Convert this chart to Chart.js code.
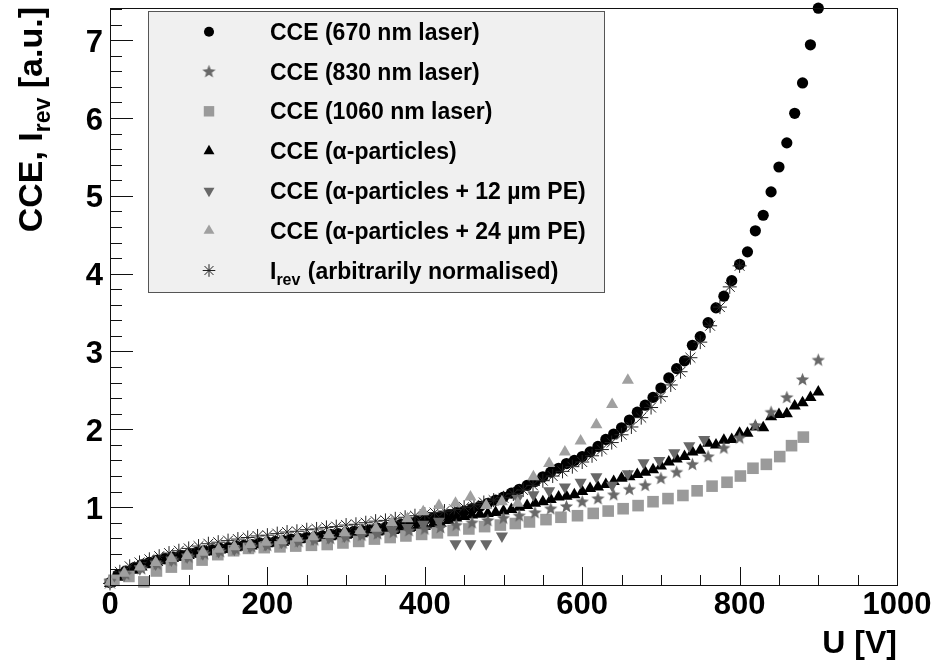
<!DOCTYPE html>
<html>
<head>
<meta charset="utf-8">
<script src="https://cdn.jsdelivr.net/npm/chart.js@4.4.1/dist/chart.umd.min.js"></script>
<style>
  html, body { margin: 0; padding: 0; background: #fff; }
  #wrap { width: 937px; height: 666px; position: relative; }
</style>
</head>
<body>
<div id="wrap"><canvas id="chart"></canvas></div>
<script>
// ---- data (U in volts, CCE / I_rev in arbitrary units) ----
const u670 = [0,10,20,30,40,50,60,70,80,90,100,110,120,130,140,150,160,170,180,190,
  200,210,220,230,240,250,260,270,280,290,300,310,320,330,340,350,360,370,380,390,
  400,410,420,430,440,450,460,470,480,490,500,510,520,530,540,550,560,570,580,590,
  600,610,620,630,640,650,660,670,680,690,700,710,720,730,740,750,760,770,780,790,
  800,810,820,830,840,850,860,870,880,890,900];
const cce670 = [0.03,0.13,0.18,0.22,0.26,0.29,0.32,0.34,0.36,0.38, 0.40,0.42,0.44,0.45,0.47,0.48,0.50,0.51,0.52,0.54,
  0.55,0.56,0.57,0.59,0.60,0.61,0.62,0.63,0.65,0.66, 0.67,0.69,0.70,0.71,0.73,0.74,0.76,0.78,0.80,0.82,
  0.84,0.86,0.88,0.90,0.93,0.95,0.98,1.01,1.05,1.09, 1.13,1.18,1.23,1.28,1.33,1.39,1.45,1.50,1.56,1.60,
  1.65,1.71,1.78,1.87,1.94,2.02,2.12,2.22,2.31,2.41, 2.53,2.66,2.78,2.88,3.08,3.19,3.37,3.56,3.71,3.91,
  4.12,4.28,4.55,4.75,5.05,5.37,5.68,6.06,6.45,6.94, 7.41];

const u830 = [0,20,40,60,80,100,120,140,160,180,200,220,240,260,280,300,320,340,360,380,
  400,420,440,460,480,500,520,540,560,580,600,620,640,660,680,700,720,740,760,780,
  800,820,840,860,880,900];
const cce830 = [0.05,0.14,0.21,0.27,0.32,0.36,0.40,0.43,0.46,0.49, 0.51,0.54,0.56,0.58,0.60,0.62,0.64,0.66,0.68,0.70,
  0.72,0.74,0.77,0.80,0.83,0.86,0.89,0.93,0.98,1.01, 1.07,1.11,1.16,1.23,1.28,1.37,1.45,1.55,1.65,1.76,
  1.89,2.05,2.22,2.41,2.64,2.89];

const u1060 = [5,24,43,59,78,98,117,137,157,176,196,216,236,256,276,296,316,336,356,376,
  396,416,436,456,476,496,515,533,554,573,594,614,633,652,671,690,709,728,746,765,
  784,801,817,834,851,866,881];
const cce1060 = [0.06,0.11,0.04,0.18,0.23,0.27,0.32,0.39,0.44,0.47, 0.48,0.49,0.50,0.51,0.52,0.54,0.56,0.59,0.61,0.63,
  0.65,0.67,0.70,0.72,0.75,0.77,0.79,0.81,0.84,0.87, 0.89,0.92,0.95,0.98,1.02,1.07,1.11,1.15,1.21,1.27,
  1.32,1.40,1.50,1.55,1.65,1.79,1.90];

const uAlpha = u670;
const cceAlpha = [0.02,0.10,0.15,0.19,0.23,0.26,0.29,0.31,0.34,0.36, 0.38,0.40,0.42,0.43,0.45,0.46,0.48,0.49,0.50,0.52,
  0.53,0.54,0.55,0.57,0.58,0.59,0.60,0.61,0.62,0.63, 0.64,0.65,0.66,0.67,0.68,0.69,0.70,0.71,0.73,0.74,
  0.75,0.77,0.79,0.83,0.86,0.88,0.90,0.91,0.92,0.93, 0.95,0.97,1.00,1.02,1.05,1.07,1.10,1.13,1.14,1.16,
  1.20,1.24,1.26,1.29,1.33,1.37,1.39,1.42,1.45,1.48, 1.53,1.58,1.62,1.65,1.71,1.73,1.82,1.80,1.86,1.87,
  1.95,1.95,2.03,2.02,2.16,2.19,2.20,2.30,2.34,2.41, 2.48];

const uPe12 = [0,18,38,58,78,98,118,138,158,178,198,218,238,258,278,298,318,338,358,378,
  398,418,439,458,478,498,518,538,558,578,598,618,638,658,678,698,717,736,755];
const ccePe12 = [0.03,0.13,0.21,0.27,0.32,0.36,0.40,0.43,0.46,0.49, 0.52,0.55,0.57,0.59,0.61,0.63,0.66,0.68,0.71,0.74,
  0.78,0.82,0.53,0.53,0.53,0.63,1.11,1.16,1.21,1.26, 1.32,1.39,1.28,1.43,1.57,1.60,1.70,1.79,1.87];

const uPe24 = [0,18,38,58,78,98,118,138,158,178,198,218,238,258,278,298,318,338,358,378,
  398,418,439,458,478,498,518,538,558,578,598,618,638,658];
const ccePe24 = [0.04,0.15,0.23,0.29,0.34,0.38,0.42,0.46,0.49,0.52, 0.55,0.57,0.60,0.62,0.65,0.67,0.70,0.73,0.80,0.85,
  0.94,1.02,1.05,1.13,1.02,1.07,1.05,1.39,1.56,1.71, 1.85,2.06,2.32,2.63];

const uIrev = [0,12.5,25,37.5,50,62.5,75,87.5,100,112.5,125,137.5,150,162.5,175,187.5,200,
  212.5,225,237.5,250,262.5,275,287.5,300,312.5,325,337.5,350,362.5,375,387.5,400,
  412.5,425,437.5,450,462.5,475,487.5,500,512.5,525,537.5,550,562.5,575,587.5,600,
  612.5,625,637.5,650,662.5,675,687.5,700,712.5,725,737.5,750,762.5,775,787.5,800];
const irev = [0.02,0.17,0.24,0.29,0.33,0.37,0.41,0.44,0.47, 0.50,0.53,0.55,0.57,0.59,0.61,0.63,0.64,
  0.66,0.68,0.69,0.71,0.72,0.74,0.75,0.77, 0.78,0.80,0.82,0.83,0.85,0.87,0.89,0.91,
  0.93,0.95,0.97,1.00,1.03,1.06,1.09,1.12, 1.17,1.22,1.28,1.34,1.40,1.46,1.52,1.58,
  1.66,1.74,1.83,1.93,2.03,2.15,2.28,2.42, 2.57,2.74,2.92,3.12,3.33,3.57,3.83,4.10];

const xTicks = [0, 200, 400, 600, 800, 1000];
const yTicks = [1, 2, 3, 4, 5, 6, 7];

const FONT = '"Liberation Sans", Arial, Helvetica, sans-serif';

// filled five-point star (ROOT marker 29 look-alike)
function makeStar(color) {
  const c = document.createElement('canvas');
  c.width = 15; c.height = 15;
  const g = c.getContext('2d');
  g.fillStyle = color;
  g.beginPath();
  for (let i = 0; i < 10; i++) {
    const r = i % 2 === 0 ? 7 : 3;
    const a = -Math.PI / 2 + i * Math.PI / 5;
    g.lineTo(7.5 + r * Math.cos(a), 7.8 + r * Math.sin(a));
  }
  g.closePath();
  g.fill();
  return c;
}

const pts = (xs, ys) => xs.map((x, i) => ({ x: x, y: ys[i] }));

const series = [
  { label: ['CCE (670 nm laser)'], data: pts(u670, cce670), color: '#000000', style: 'circle', radius: 5.6, order: 6 },
  { label: ['CCE (830 nm laser)'], data: pts(u830, cce830), color: '#686868', style: makeStar('#686868'), radius: 7, order: 2 },
  { label: ['CCE (1060 nm laser)'], data: pts(u1060, cce1060), color: '#9a9a9a', style: 'rect', radius: 8.2, order: 3 },
  { label: ['CCE (\u03b1-particles)'], data: pts(uAlpha, cceAlpha), color: '#000000', style: 'triangle', radius: 7, order: 4 },
  { label: ['CCE (\u03b1-particles + 12 \u00b5m PE)'], data: pts(uPe12, ccePe12), color: '#686868', style: 'triangle', rotation: 180, radius: 7, order: 1 },
  { label: ['CCE (\u03b1-particles + 24 \u00b5m PE)'], data: pts(uPe24, ccePe24), color: '#a0a0a0', style: 'triangle', radius: 7, order: 0 },
  { label: ['I', 'rev', ' (arbitrarily normalised)'], data: pts(uIrev, irev), color: '#000000', style: 'star', radius: 7, order: 5, line: true }
];

const datasets = series.map(s => ({
  label: s.label.join(''),
  data: s.data,
  order: s.order,
  clip: false,
  showLine: false,
  pointStyle: s.style,
  pointRadius: s.radius,
  pointRotation: s.rotation || 0,
  pointBackgroundColor: s.color,
  pointBorderColor: s.line ? '#222' : s.color,
  pointBorderWidth: s.line ? 1 : 0,
  pointHoverRadius: s.radius
}));

// inward ticks, frame, legend box and axis titles in the ROOT style
const rootDecor = {
  id: 'rootDecor',
  afterDatasetsDraw(chart) {
    const { ctx, chartArea: a, scales: { x, y } } = chart;
    ctx.save();
    ctx.strokeStyle = '#111';
    ctx.lineWidth = 1;
    ctx.beginPath();
    for (let k = 0; k <= 20; k++) {
      const v = k * 50;
      const px = Math.round(x.getPixelForValue(v)) + 0.5;
      const len = k % 4 === 0 ? 18 : 10;
      ctx.moveTo(px, a.bottom);
      ctx.lineTo(px, a.bottom - len);
    }
    for (let k = 0; k / 5 <= y.max; k++) {
      const py = Math.round(y.getPixelForValue(k / 5)) + 0.5;
      const len = k % 5 === 0 ? 23 : 12;
      ctx.moveTo(a.left, py);
      ctx.lineTo(a.left + len, py);
    }
    ctx.stroke();
    ctx.strokeRect(Math.round(a.left) + 0.5, Math.round(a.top) + 0.5,
      Math.round(a.right - a.left), Math.round(a.bottom - a.top));
    ctx.restore();
  },
  afterDraw(chart) {
    const ctx = chart.ctx;
    ctx.save();

    // legend
    const bx = 148, by = 11, bw = 456, bh = 281;
    ctx.fillStyle = '#f0f0f0';
    ctx.fillRect(bx, by, bw, bh);
    ctx.strokeStyle = '#555';
    ctx.lineWidth = 1;
    ctx.strokeRect(bx + 0.5, by + 0.5, bw, bh);
    const mainFont = 'bold 23px ' + FONT;
    const subFont = 'bold 16px ' + FONT;
    series.forEach((s, i) => {
      const cy = 31.7 + i * 39.8;
      ctx.fillStyle = s.color;
      ctx.strokeStyle = s.line ? '#222' : s.color;
      ctx.lineWidth = 1;
      Chart.helpers.drawPoint(ctx, {
        pointStyle: s.style, radius: s.radius * 0.9, rotation: s.rotation || 0,
        borderWidth: s.line ? 1 : 0
      }, 209, cy);
      ctx.fillStyle = '#000';
      ctx.textAlign = 'left';
      ctx.textBaseline = 'alphabetic';
      let tx = 270;
      const base = cy + 8;
      s.label.forEach((part, j) => {
        const isSub = s.label.length > 1 && j === 1;
        ctx.font = isSub ? subFont : mainFont;
        ctx.fillText(part, tx, isSub ? base + 6 : base);
        tx += ctx.measureText(part).width + (isSub ? 1 : 0);
      });
    });

    // x title
    ctx.fillStyle = '#000';
    ctx.font = 'bold 32px ' + FONT;
    ctx.textAlign = 'right';
    ctx.textBaseline = 'alphabetic';
    ctx.fillText('U [V]', chart.chartArea.right, 653);

    // y title, rotated, end aligned with the top of the frame
    const yParts = [['CCE, I', 'bold 34px '], ['rev', 'bold 23px '], [' [a.u.]', 'bold 34px ']];
    let total = 0;
    yParts.forEach(p => { ctx.font = p[1] + FONT; total += ctx.measureText(p[0]).width; });
    ctx.translate(42, 7 + total);
    ctx.rotate(-Math.PI / 2);
    ctx.textAlign = 'left';
    let lx = 0;
    yParts.forEach((p, j) => {
      ctx.font = p[1] + FONT;
      ctx.fillText(p[0], lx, j === 1 ? 8 : 0);
      lx += ctx.measureText(p[0]).width;
    });
    ctx.restore();
  }
};

new Chart(document.getElementById('chart'), {
  type: 'scatter',
  data: { datasets: datasets },
  plugins: [rootDecor],
  options: {
    responsive: true,
    maintainAspectRatio: false,
    animation: false,
    layout: { padding: { top: 7, right: 40, left: 0, bottom: 0 } },
    plugins: { legend: { display: false }, tooltip: { enabled: false } },
    scales: {
      x: {
        type: 'linear',
        min: 0,
        max: 1000,
        afterFit: s => { s.height = 81; s.paddingLeft = 0; s.paddingRight = 0; },
        afterBuildTicks: s => { s.ticks = xTicks.map(v => ({ value: v })); },
        grid: { display: false, drawTicks: false },
        border: { display: false },
        ticks: {
          padding: 2,
          maxRotation: 0,
          autoSkip: false,
          color: '#000',
          font: { family: FONT, size: 31, weight: 'bold' },
          callback: v => String(v)
        }
      },
      y: {
        type: 'linear',
        min: 0,
        max: 7.41,
        afterFit: s => { s.width = 110; s.paddingTop = 0; s.paddingBottom = 0; },
        afterBuildTicks: s => { s.ticks = yTicks.map(v => ({ value: v })); },
        grid: { display: false, drawTicks: false },
        border: { display: false },
        ticks: {
          padding: 7,
          labelOffset: 3,
          autoSkip: false,
          color: '#000',
          font: { family: FONT, size: 31, weight: 'bold' },
          callback: v => String(v)
        }
      }
    }
  }
});
</script>
</body>
</html>
